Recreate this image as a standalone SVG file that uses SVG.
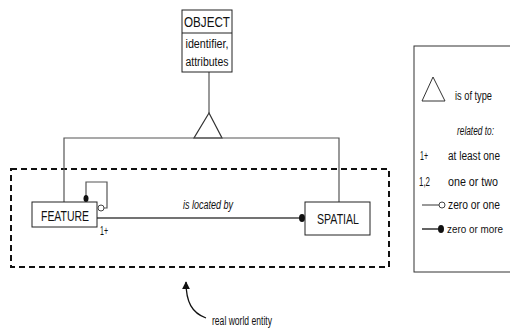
<svg xmlns="http://www.w3.org/2000/svg" width="510" height="328" viewBox="0 0 510 328">
<style>
.box{fill:#fff;stroke:#222;stroke-width:1}
.ln{fill:none;stroke:#555;stroke-width:1.2}
.t{font-family:"Liberation Sans",Arial,sans-serif;fill:#111}
.big{font-size:15px}
.sm{font-size:12px}
.it{font-style:italic}
</style>
<defs>
<marker id="ah" viewBox="0 0 10 10" refX="9" refY="5" markerWidth="8" markerHeight="6" orient="auto">
<path d="M0,0 L10,5 L0,10 z" fill="#111"/>
</marker>
</defs>
<rect x="11" y="169" width="378" height="98" fill="none" stroke="#111" stroke-width="2" stroke-dasharray="6 4"/>
<g id="connectors">
<path class="ln" d="M209,72 V113"/>
<polygon points="209,113 194,138 222,138" fill="#fff" stroke="#333" stroke-width="1.2"/>
<path class="ln" d="M64,202 V138 H339 V202"/>
<path class="ln" d="M86,202 V182 H107 V208 H104"/>
<ellipse cx="86" cy="198.5" rx="2.5" ry="3.5" fill="#111"/>
<circle cx="101" cy="208" r="3" fill="#fff" stroke="#444" stroke-width="1"/>
<path d="M97,218 H301" fill="none" stroke="#444" stroke-width="1.6"/>
<ellipse cx="302" cy="218" rx="3" ry="4" fill="#111"/>
<text class="t sm it" x="208" y="209" text-anchor="middle" textLength="50" lengthAdjust="spacingAndGlyphs" fill="#333">is located by</text>
<text class="t sm" x="100" y="235" textLength="8" lengthAdjust="spacingAndGlyphs">1+</text>
</g>
<g id="object">
<rect class="box" x="182" y="10" width="50" height="62"/>
<line x1="182" y1="33" x2="232" y2="33" stroke="#222"/>
<text class="t big" x="207" y="27" text-anchor="middle" textLength="46" lengthAdjust="spacingAndGlyphs">OBJECT</text>
<text class="t sm" x="207" y="48" text-anchor="middle" textLength="43" lengthAdjust="spacingAndGlyphs">identifier,</text>
<text class="t sm" x="207" y="66" text-anchor="middle" textLength="43" lengthAdjust="spacingAndGlyphs">attributes</text>
</g>
<g id="feature">
<rect class="box" x="32" y="202" width="65" height="25"/>
<text class="t big" x="65" y="221" text-anchor="middle" textLength="48" lengthAdjust="spacingAndGlyphs">FEATURE</text>
</g>
<g id="spatial">
<rect class="box" x="305" y="202" width="65" height="33"/>
<text class="t big" x="338" y="224" text-anchor="middle" textLength="42" lengthAdjust="spacingAndGlyphs">SPATIAL</text>
</g>
<g id="annotation">
<path d="M206,318 C192,313 186,302 186,282" fill="none" stroke="#111" stroke-width="1.3" marker-end="url(#ah)"/>
<text class="t sm" x="212" y="325" textLength="60" lengthAdjust="spacingAndGlyphs">real world entity</text>
</g>
<g id="legend">
<rect x="414" y="46" width="100" height="226" fill="none" stroke="#333" stroke-width="1"/>
<polygon points="433,77 422,101 445,101" fill="#fff" stroke="#333" stroke-width="1"/>
<text class="t sm" x="455" y="100" textLength="37" lengthAdjust="spacingAndGlyphs">is of type</text>
<text class="t sm it" x="457" y="135" textLength="37" lengthAdjust="spacingAndGlyphs">related to:</text>
<text class="t sm" x="420" y="160" textLength="8" lengthAdjust="spacingAndGlyphs">1+</text>
<text class="t sm" x="448" y="160" textLength="52" lengthAdjust="spacingAndGlyphs">at least one</text>
<text class="t sm" x="419" y="186" textLength="11" lengthAdjust="spacingAndGlyphs">1,2</text>
<text class="t sm" x="448" y="186" textLength="50" lengthAdjust="spacingAndGlyphs">one or two</text>
<line x1="422" y1="205" x2="439" y2="205" stroke="#555" stroke-width="1.2"/>
<circle cx="442" cy="205" r="3" fill="#fff" stroke="#444" stroke-width="1"/>
<text class="t sm" x="448" y="209" textLength="52" lengthAdjust="spacingAndGlyphs">zero or one</text>
<line x1="422" y1="229" x2="439" y2="229" stroke="#222" stroke-width="1.4"/>
<ellipse cx="441" cy="229" rx="3" ry="4" fill="#111"/>
<text class="t" x="447" y="233" font-size="10.5" textLength="56" lengthAdjust="spacingAndGlyphs">zero or more</text>
</g>
</svg>
